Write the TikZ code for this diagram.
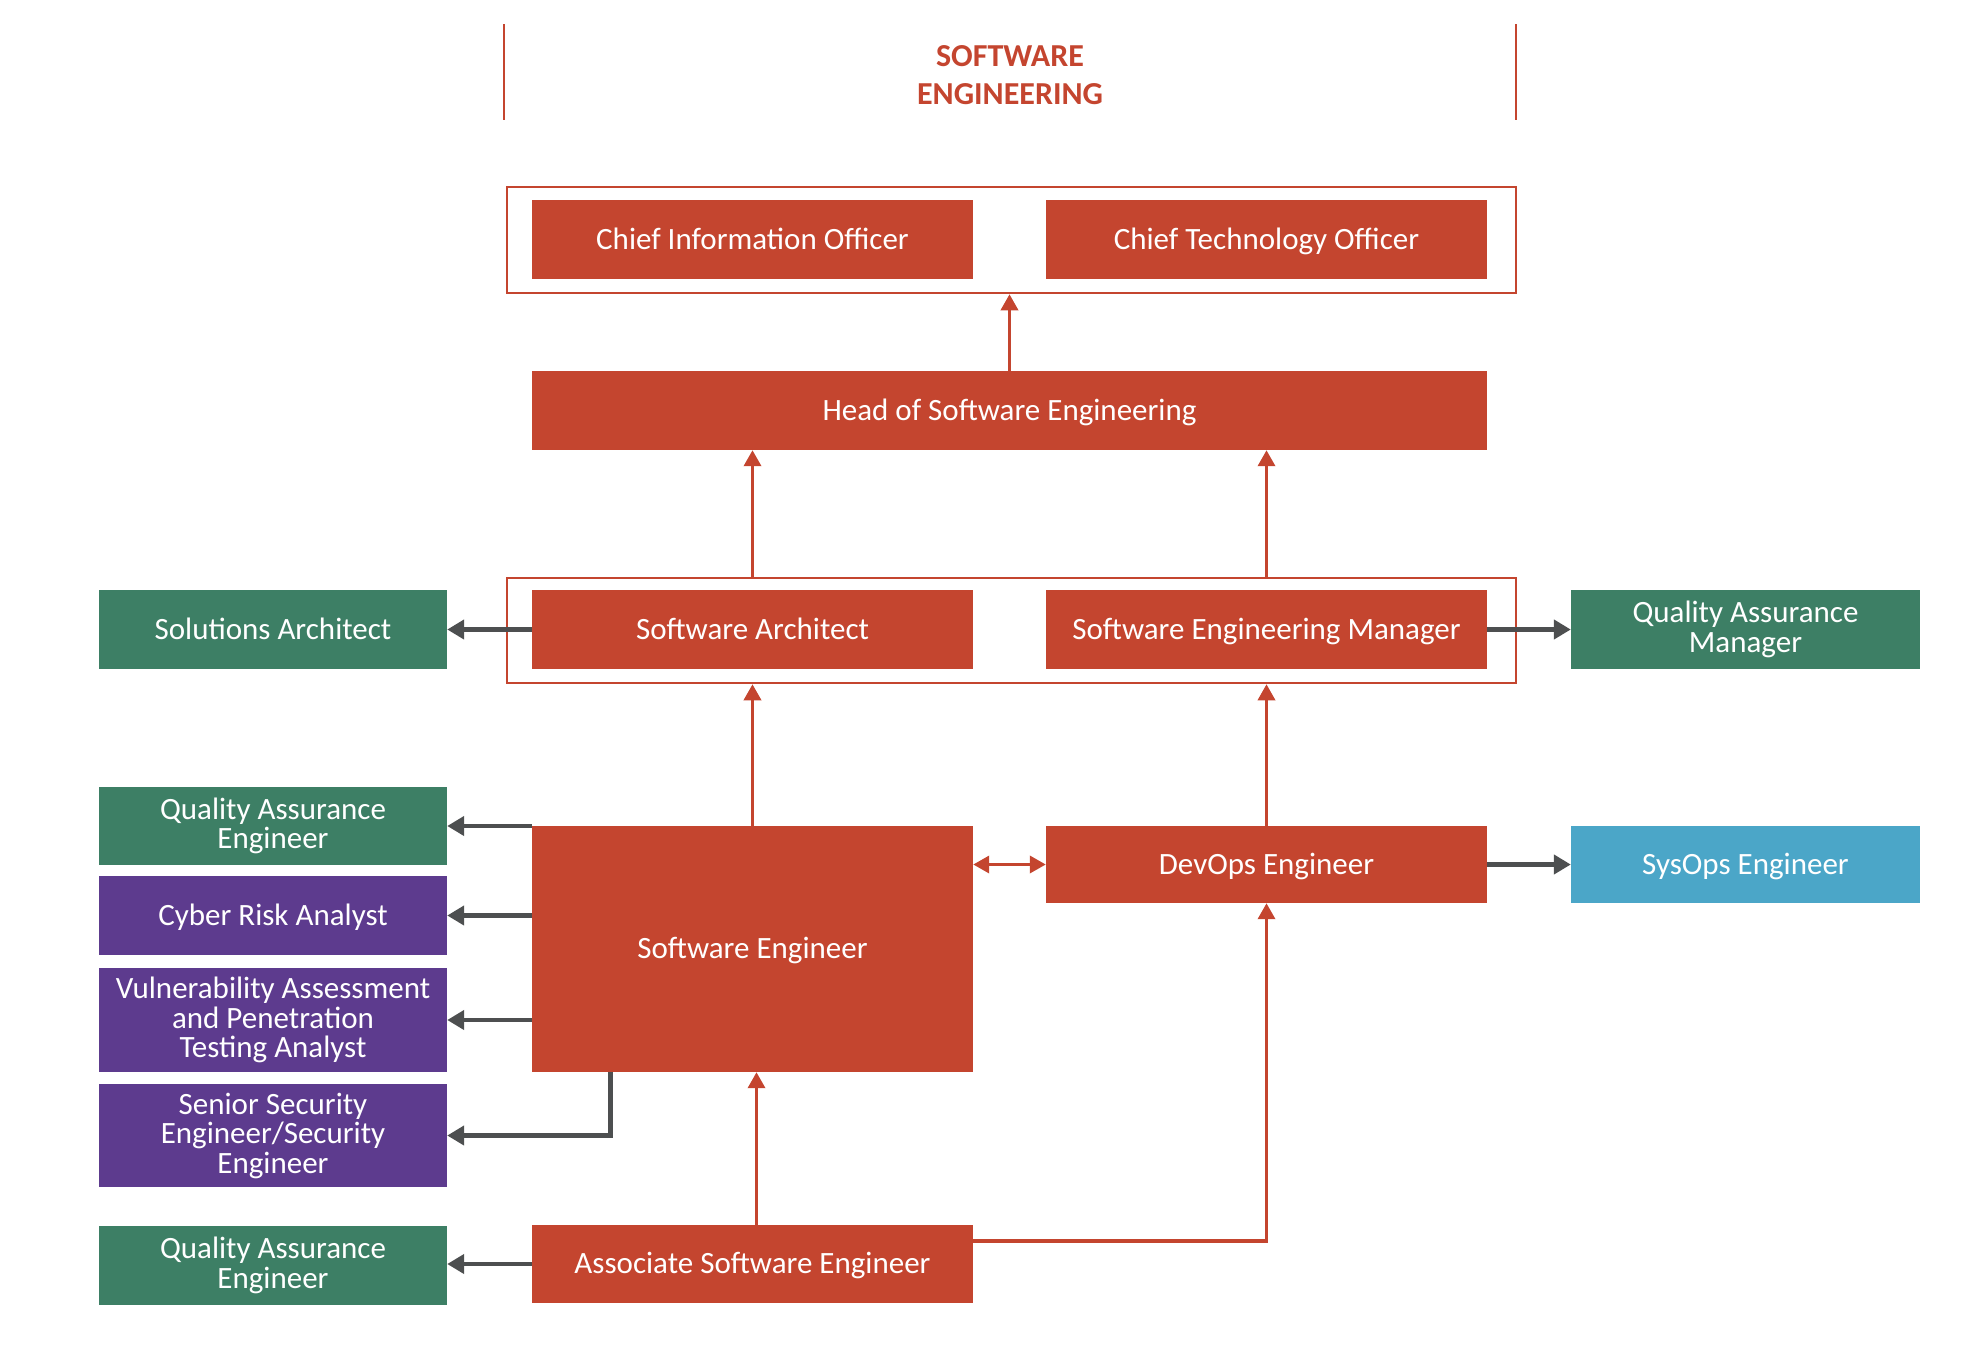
\documentclass[tikz,border=0pt]{standalone}
\usepackage{fontspec}
\setmainfont{Carlito}
\usetikzlibrary{arrows.meta}
\definecolor{cred}{HTML}{C4452F}
\definecolor{cgreen}{HTML}{3D7F65}
\definecolor{cpurple}{HTML}{5D3B8E}
\definecolor{cblue}{HTML}{4BA6C8}
\definecolor{cgray}{HTML}{4D4F50}
\tikzset{
  box/.style={rectangle, inner sep=0pt, align=center, text=white, font=\fontsize{31}{29.5}\selectfont},
  one/.style={text height=22pt, text depth=3pt},
  redbox/.style={box, fill=cred},
  greenbox/.style={box, fill=cgreen},
  purplebox/.style={box, fill=cpurple},
  bluebox/.style={box, fill=cblue},
  grpbox/.style={rectangle, inner sep=0pt, draw=cred, line width=2.5pt},
  redarrow/.style={draw=cred, line width=3.5pt, -{Triangle[length=16pt,width=17pt]}},
  redboth/.style={draw=cred, line width=3.5pt, {Triangle[length=16pt,width=17pt]}-{Triangle[length=16pt,width=17pt]}},
  grayarrow/.style={draw=cgray, line width=4.5pt, -{Triangle[length=17pt,width=19pt]}},
  wide/.style={minimum width=441pt},
  side/.style={minimum width=348pt}
}
\begin{document}
\begin{tikzpicture}[x=1pt,y=-1pt]
\useasboundingbox (0,0) rectangle (1986,1344);
% title
\draw[cred, line width=2pt] (504,24) -- (504,120);
\draw[cred, line width=2pt] (1516,24) -- (1516,120);
\node[text=cred, font=\fontsize{32}{38}\selectfont\bfseries, align=center] (title) at (1010,75) {SOFTWARE\\ENGINEERING};
% groups
\node[grpbox, minimum width=1009pt, minimum height=106pt] (topgrp) at (1011.5,240) {};
\node[grpbox, minimum width=1009pt, minimum height=105pt] (grp2) at (1011.5,630.5) {};
% red boxes
\node[redbox, one, wide, minimum height=79pt] (cio) at (752.5,239.5) {Chief Information Officer};
\node[redbox, one, wide, minimum height=79pt] (cto) at (1266.5,239.5) {Chief Technology Officer};
\node[redbox, one, minimum width=955pt, minimum height=79pt] (head) at (1009.5,410.5) {Head of Software Engineering};
\node[redbox, one, wide, minimum height=79pt] (sa) at (752.5,629.5) {Software Architect};
\node[redbox, one, wide, minimum height=79pt] (sem) at (1266.5,629.5) {Software Engineering Manager};
\node[redbox, one, wide, minimum height=246pt] (se) at (752.5,949) {Software Engineer};
\node[redbox, one, wide, minimum height=77pt] (devops) at (1266.5,864.5) {DevOps Engineer};
\node[redbox, one, wide, minimum height=78pt] (ase) at (752.5,1264) {Associate Software Engineer};
% side boxes
\node[greenbox, one, side, minimum height=79pt] (solarch) at (273,629.5) {Solutions Architect};
\node[greenbox, minimum width=349pt, minimum height=79pt] (qam) at (1745.5,629.5) {Quality Assurance\\Manager};
\node[bluebox, one, minimum width=349pt, minimum height=77pt] (sysops) at (1745.5,864.5) {SysOps Engineer};
\node[greenbox, side, minimum height=78pt] (qae1) at (273,826) {Quality Assurance\\Engineer};
\node[purplebox, one, side, minimum height=79pt] (cra) at (273,915.5) {Cyber Risk Analyst};
\node[purplebox, side, minimum height=104pt] (vapt) at (273,1020) {Vulnerability Assessment\\and Penetration\\Testing Analyst};
\node[purplebox, side, minimum height=103pt] (sse) at (273,1135.5) {Senior Security\\Engineer/Security\\Engineer};
\node[greenbox, side, minimum height=79pt] (qae2) at (273,1265.5) {Quality Assurance\\Engineer};
% red connectors
\draw[redarrow] (head.north) -- (head.north |- topgrp.south);
\draw[redarrow] (sa.north |- grp2.north) -- (sa.north |- head.south);
\draw[redarrow] (sem.north |- grp2.north) -- (sem.north |- head.south);
\draw[redarrow] (se.north) -- (se.north |- grp2.south);
\draw[redarrow] (devops.north) -- (devops.north |- grp2.south);
\draw[redboth] (se.east |- devops.west) -- (devops.west);
\draw[redarrow] ([xshift=4pt]ase.north) -- ([xshift=4pt]se.south);
\draw[redarrow] ([yshift=-16pt]ase.north east) -| (devops.south);
% gray connectors
\draw[grayarrow] (sa.west) -- (solarch.east);
\draw[grayarrow] (sem.east) -- (qam.west);
\draw[grayarrow] (devops.east) -- (sysops.west);
\draw[grayarrow] (se.west |- qae1.east) -- (qae1.east);
\draw[grayarrow] (se.west |- cra.east) -- (cra.east);
\draw[grayarrow] (se.west |- vapt.east) -- (vapt.east);
\draw[grayarrow] ([xshift=-142pt]se.south) |- (sse.east);
\draw[grayarrow] (ase.west) -- (ase.west -| qae2.east);
\end{tikzpicture}
\end{document}
